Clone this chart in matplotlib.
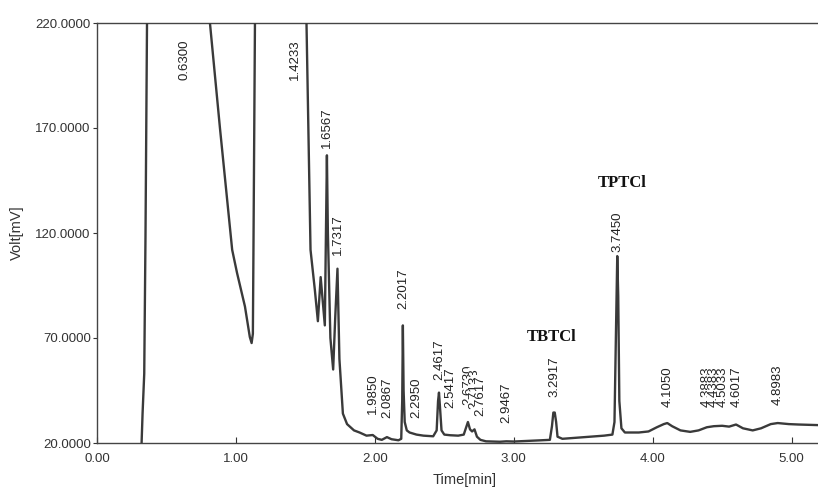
import matplotlib
matplotlib.use("Agg")
import matplotlib.pyplot as plt
import numpy as np

# chromatogram trace (time in min, signal in mV)
time_min = [0.321, 0.328, 0.34, 0.349, 0.36, 0.37,
            0.78, 0.813, 0.885, 0.973, 1.008, 1.065, 1.10, 1.113, 1.122, 1.126, 1.137, 1.15,
            1.49, 1.508, 1.537, 1.568, 1.59, 1.61, 1.64, 1.648, 1.655, 1.662, 1.68, 1.70,
            1.715, 1.731, 1.745, 1.77, 1.80, 1.85, 1.89, 1.94, 1.985, 2.02, 2.05, 2.087,
            2.12, 2.17, 2.19, 2.197, 2.2017, 2.207, 2.215, 2.23, 2.25, 2.30, 2.35, 2.42,
            2.445, 2.455, 2.4617, 2.468, 2.48, 2.50, 2.5417, 2.60, 2.64, 2.66, 2.67, 2.685,
            2.70, 2.7173, 2.735, 2.76, 2.80, 2.90, 2.9467, 3.00, 3.10, 3.20, 3.26, 3.275,
            3.285, 3.295, 3.305, 3.315, 3.35, 3.45, 3.55, 3.65, 3.71, 3.725, 3.735, 3.745,
            3.752, 3.76, 3.775, 3.80, 3.90, 3.97, 4.03, 4.08, 4.105, 4.14, 4.20, 4.27,
            4.33, 4.39, 4.44, 4.50, 4.55, 4.60, 4.65, 4.72, 4.78, 4.85, 4.90, 4.98,
            5.05, 5.20]
volt_mv = [20, 34, 53, 118, 220, 280,
           280, 220, 170, 112, 101, 85, 70.5, 67.6, 72, 110, 220, 280,
           280, 220, 112, 93, 78, 99, 76, 120, 157, 120, 70, 55,
           80, 103, 60, 34, 29, 26, 25, 23.5, 23.8, 22, 21.5, 22.8,
           21.8, 21.3, 22, 40, 76, 45, 30, 26, 25, 24, 23.5, 23.2,
           26, 40, 44, 38, 26, 24, 23.7, 23.5, 24, 28, 30, 26.5,
           25.5, 26.5, 23, 21.5, 20.8, 20.6, 20.8, 20.7, 21, 21.3, 21.5, 28,
           34.5, 34.5, 30, 23, 22, 22.5, 23, 23.5, 24, 30, 70, 109,
           90, 40, 27, 25, 25, 25.5, 27.5, 29, 29.5, 28, 26, 25.3,
           26, 27.5, 28, 28.2, 27.8, 28.8, 27, 26, 27, 29, 29.5, 29,
           28.8, 28.5]

# retention time labels and the height their lower end sits at
peak_labels = ["0.6300", "1.4233", "1.6567", "1.7317", "1.9850", "2.0867", "2.2017",
               "2.2950", "2.4617", "2.5417", "2.6730", "2.7133", "2.7617", "2.9467",
               "3.2917", "3.7450", "4.1050", "4.3883", "4.4383", "4.5033", "4.6017", "4.8983"]
label_base = [193, 193, 160.5, 109.5, 34, 32, 84,
              32, 50, 36.7, 38, 36, 33, 29.5,
              42, 111, 37, 37, 37, 37, 37, 38]

compounds = ["TBTCl", "TPTCl"]
compound_pos = [(3.27, 70.5), (3.78, 144)]

y_ticks = [20, 70, 120, 170, 220]
x_ticks = [0, 1, 2, 3, 4, 5]

plt.rcParams['font.family'] = ['Liberation Sans', 'DejaVu Sans']
plt.rcParams['font.size'] = 9.5

fig = plt.figure(figsize=(8.18, 4.96), dpi=100)
ax = fig.add_axes([97 / 818, 53 / 496, 721 / 818, 420 / 496])

ax.plot(time_min, volt_mv, color='#3a3a3a', lw=1.7, zorder=3, solid_joinstyle='round')

# later labels hide the earlier ones where they crowd, as in the print
for lab, base in zip(peak_labels, label_base):
    ax.text(float(lab), base, lab, rotation=90, ha='center', va='bottom',
            color='#222222', fontsize=9.5, zorder=2,
            bbox=dict(facecolor='white', edgecolor='none', pad=0.3))

for name, (tx, ty) in zip(compounds, compound_pos):
    ax.text(tx, ty, name, ha='center', va='center', fontsize=12, fontweight='bold',
            family='Liberation Serif', color='#111111')

ax.set_xlim(0, 5.19)
ax.set_ylim(20, 220)
ax.set_yticks(y_ticks)
ax.set_yticklabels(["%.4f" % v for v in y_ticks])
ax.set_xticks(x_ticks)
ax.set_xticklabels(["%.2f" % v for v in x_ticks])
ax.tick_params(axis='y', direction='out', length=3, width=0.8, colors='#333333', pad=1.5)
ax.tick_params(axis='x', direction='in', length=4, width=0.8, colors='#333333', pad=7)

for side in ['left', 'bottom', 'top']:
    ax.spines[side].set_color('#444444')
    ax.spines[side].set_linewidth(1.0)
ax.spines['right'].set_visible(False)

ax.set_ylabel("Volt[mV]", fontsize=10.5, color='#333333')
ax.yaxis.set_label_coords(-0.102, 0.5)
ax.set_xlabel("Time[min]", fontsize=10.5, color='#333333')
ax.xaxis.set_label_coords(0.51, -0.072)

fig.savefig("out.png", dpi=100)
